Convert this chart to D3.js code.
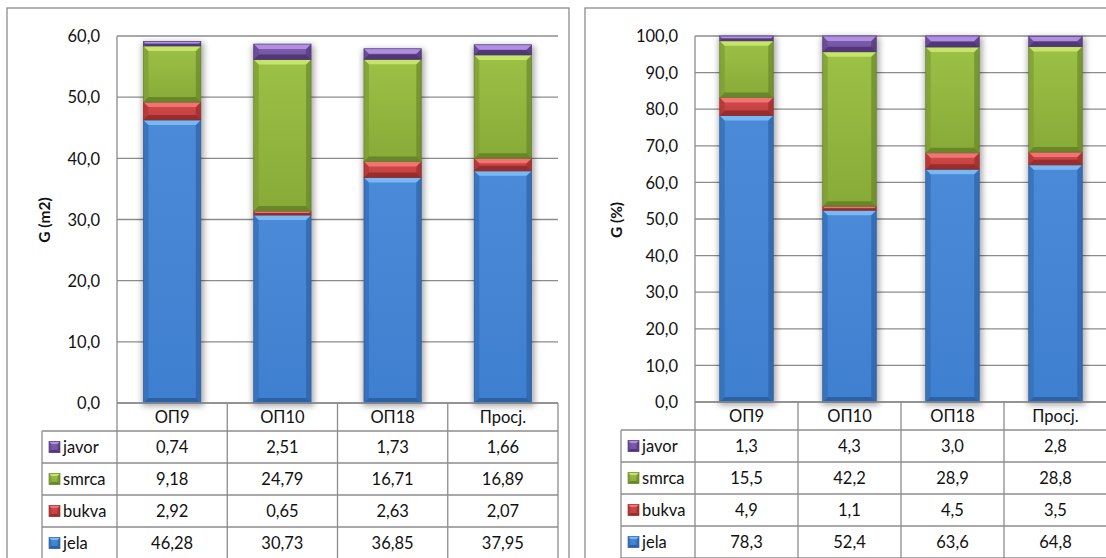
<!DOCTYPE html>
<html>
<head>
<meta charset="utf-8">
<script src="https://cdn.jsdelivr.net/npm/d3@7"></script>
<style>
  html, body { margin: 0; padding: 0; background: #fff; }
  svg { display: block; }
  text { font-family: Lato, "Open Sans", "Noto Sans", sans-serif; fill: #111; }
</style>
</head>
<body>
<svg id="chart" width="1106" height="558"></svg>
<script>
// ---- data ----
const categories = ["ОП9", "ОП10", "ОП18", "Просј."];
const seriesNames = ["jela", "bukva", "smrca", "javor"];           // stack order, bottom -> top
const tableOrder = ["javor", "smrca", "bukva", "jela"];            // table row order, top -> bottom

// Panel 1: G (m2)
const m2_jela  = [46.28, 30.73, 36.85, 37.95];
const m2_bukva = [2.92, 0.65, 2.63, 2.07];
const m2_smrca = [9.18, 24.79, 16.71, 16.89];
const m2_javor = [0.74, 2.51, 1.73, 1.66];
const m2_labels = {
  jela:  ["46,28", "30,73", "36,85", "37,95"],
  bukva: ["2,92", "0,65", "2,63", "2,07"],
  smrca: ["9,18", "24,79", "16,71", "16,89"],
  javor: ["0,74", "2,51", "1,73", "1,66"]
};
const m2_ticks = [0, 10, 20, 30, 40, 50, 60];

// Panel 2: G (%)
const pct_jela  = [78.3, 52.4, 63.6, 64.8];
const pct_bukva = [4.9, 1.1, 4.5, 3.5];
const pct_smrca = [15.5, 42.2, 28.9, 28.8];
const pct_javor = [1.3, 4.3, 3.0, 2.8];
const pct_labels = {
  jela:  ["78,3", "52,4", "63,6", "64,8"],
  bukva: ["4,9", "1,1", "4,5", "3,5"],
  smrca: ["15,5", "42,2", "28,9", "28,8"],
  javor: ["1,3", "4,3", "3,0", "2,8"]
};
const pct_ticks = [0, 10, 20, 30, 40, 50, 60, 70, 80, 90, 100];

const seriesColors = {
  jela:  { face: "#3f7fcf", top: "#4a8ad8", light: "#7ab8f2", dark: "#2a5c9e", side: "#3670b8" },
  bukva: { face: "#c43f3f", top: "#d24a4a", light: "#f27373", dark: "#8e2a2a", side: "#b23838" },
  smrca: { face: "#88aa38", top: "#9cc146", light: "#c6e46a", dark: "#637f28", side: "#7f9f34" },
  javor: { face: "#7152a0", top: "#7f5fb0", light: "#b08ee0", dark: "#4b3370", side: "#684a94" }
};

const FS = 16.5;
const fmt = v => v.toFixed(1).replace(".", ",");
const svg = d3.select("#chart");
const GRID = "#8c8c8c";

const defs = svg.append("defs");
const f = defs.append("filter").attr("id", "shadow").attr("x", "-30%").attr("y", "-10%").attr("width", "160%").attr("height", "120%");
f.append("feGaussianBlur").attr("stdDeviation", 3);
Object.entries(seriesColors).forEach(([k, c]) => {
  const lg = defs.append("linearGradient").attr("id", "grad-" + k).attr("x1", 0).attr("y1", 0).attr("x2", 0).attr("y2", 1);
  lg.append("stop").attr("offset", "0%").attr("stop-color", c.top);
  lg.append("stop").attr("offset", "100%").attr("stop-color", c.face);
});

function bevelBar(g, x, y, w, h, key, b0) {
  const c = seriesColors[key];
  const b = Math.min(b0, h / 2, w / 2);
  g.append("rect").attr("x", x).attr("y", y).attr("width", w).attr("height", h).attr("fill", `url(#grad-${key})`);
  g.append("polygon").attr("points", [[x, y], [x + b, y + b], [x + b, y + h - b], [x, y + h]].join(" ")).attr("fill", c.side).attr("opacity", 0.8);
  g.append("polygon").attr("points", [[x + w, y], [x + w - b, y + b], [x + w - b, y + h - b], [x + w, y + h]].join(" ")).attr("fill", c.dark).attr("opacity", 0.6);
  g.append("polygon").attr("points", [[x, y], [x + w, y], [x + w - b, y + b], [x + b, y + b]].join(" ")).attr("fill", c.light);
  g.append("polygon").attr("points", [[x, y + h], [x + w, y + h], [x + w - b, y + h - b], [x + b, y + h - b]].join(" ")).attr("fill", c.dark).attr("opacity", 0.85);
  g.append("rect").attr("x", x).attr("y", y).attr("width", w).attr("height", h)
    .attr("fill", "none").attr("stroke", c.dark).attr("stroke-width", 0.8).attr("opacity", 0.8);
}

function drawPanel(cfg) {
  const g = svg.append("g");
  // outer frame
  g.append("rect").attr("x", cfg.frameLeft).attr("y", 8).attr("width", cfg.frameRight - cfg.frameLeft).attr("height", 600)
    .attr("fill", "none").attr("stroke", GRID).attr("stroke-width", 1.3);

  const x = d3.scaleBand().domain(categories).range([cfg.plotLeft, cfg.plotRight]).paddingInner(0).paddingOuter(0);
  const y = d3.scaleLinear().domain([0, cfg.max]).range([cfg.zeroY, cfg.topY]);

  // gridlines
  g.append("g").selectAll("line").data(cfg.ticks).join("line")
    .attr("x1", cfg.plotLeft).attr("x2", cfg.plotRight)
    .attr("y1", d => y(d)).attr("y2", d => y(d))
    .attr("stroke", GRID).attr("stroke-width", 1.3);
  g.append("line").attr("x1", cfg.plotLeft).attr("x2", cfg.plotLeft).attr("y1", y(cfg.max)).attr("y2", cfg.zeroY)
    .attr("stroke", GRID).attr("stroke-width", 1.3);

  // y tick labels
  const yAxis = d3.axisLeft(y).tickValues(cfg.ticks).tickFormat(fmt).tickSize(0).tickPadding(0);
  const ag = g.append("g").attr("transform", `translate(${cfg.labelRight},0)`).call(yAxis);
  ag.select(".domain").remove();
  ag.selectAll("text").attr("font-size", FS).attr("font-family", "Lato, 'Open Sans', sans-serif").attr("fill", "#111").attr("dy", "0.35em");

  // y title
  g.append("text").attr("transform", `translate(${cfg.titleX},${cfg.titleY}) rotate(-90)`)
    .attr("text-anchor", "middle").attr("dy", "0.35em").attr("font-size", 15.5).attr("font-weight", "bold").text(cfg.title);

  // bars
  const stack = d3.stack().keys(seriesNames)(categories.map((c, i) => {
    const o = { cat: c };
    seriesNames.forEach(s => o[s] = cfg.data[s][i]);
    return o;
  }));
  const bw = x.bandwidth() * 0.52;
  // shadow
  const totals = categories.map((c, i) => d3.sum(seriesNames, s => cfg.data[s][i]));
  g.append("g").selectAll("rect").data(categories).join("rect")
    .attr("x", c => x(c) + (x.bandwidth() - bw) / 2 - 1)
    .attr("y", (c, i) => y(totals[i]) + 1)
    .attr("width", bw + 4).attr("height", (c, i) => cfg.zeroY - y(totals[i]) + 2)
    .attr("fill", "#000").attr("opacity", 0.35).attr("filter", "url(#shadow)");
  stack.forEach(layer => {
    const key = layer.key;
    layer.forEach((d, i) => {
      const bx = x(categories[i]) + (x.bandwidth() - bw) / 2;
      const y0 = y(d[1]), y1 = y(d[0]);
      bevelBar(g, bx, y0, bw, y1 - y0, key, 5);
    });
  });

  // data table
  const tg = g.append("g");
  const rowTops = [cfg.zeroY, cfg.zeroY + 28];
  for (let r = 1; r <= 4; r++) rowTops.push(rowTops[rowTops.length - 1] + 32);
  // header row
  tg.selectAll("text.hdr").data(categories).join("text")
    .attr("x", c => x(c) + x.bandwidth() / 2).attr("y", (rowTops[0] + rowTops[1]) / 2)
    .attr("text-anchor", "middle").attr("dy", "0.35em").attr("font-size", FS).text(c => c);
  // horizontal lines
  const hl = [];
  rowTops.forEach((t, i) => {
    if (i === 0) return;
    hl.push({ y: t, x1: cfg.tableLeft, x2: cfg.plotRight });
  });
  hl.push({ y: cfg.zeroY, x1: cfg.plotLeft, x2: cfg.plotRight });
  tg.selectAll("line.h").data(hl).join("line")
    .attr("x1", d => d.x1).attr("x2", d => d.x2).attr("y1", d => d.y).attr("y2", d => d.y)
    .attr("stroke", GRID).attr("stroke-width", 1.3);
  // vertical lines
  const vx = [cfg.plotLeft].concat(categories.map(c => x(c) + x.bandwidth()));
  tg.selectAll("line.v").data(vx).join("line")
    .attr("x1", d => d).attr("x2", d => d).attr("y1", cfg.zeroY).attr("y2", 600)
    .attr("stroke", GRID).attr("stroke-width", 1.3);
  tg.append("line").attr("x1", cfg.tableLeft).attr("x2", cfg.tableLeft).attr("y1", rowTops[1]).attr("y2", 600)
    .attr("stroke", GRID).attr("stroke-width", 1.3);

  tableOrder.forEach((s, r) => {
    const cy = (rowTops[r + 1] + rowTops[r + 2]) / 2;
    const mg = tg.append("g");
    bevelBar(mg, cfg.tableLeft + 7, cy - 5.5, 11, 11, s, 2.5);
    tg.append("text").attr("x", cfg.tableLeft + 21).attr("y", cy).attr("dy", "0.35em").attr("font-size", FS).text(s);
    categories.forEach((c, i) => {
      tg.append("text").attr("x", x(c) + x.bandwidth() / 2).attr("y", cy).attr("dy", "0.35em")
        .attr("text-anchor", "middle").attr("font-size", FS).text(cfg.labels[s][i]);
    });
  });
}

drawPanel({
  frameLeft: 7, frameRight: 569,
  plotLeft: 117, plotRight: 558, zeroY: 403, topY: 36, max: 60,
  ticks: m2_ticks, labelRight: 100, titleX: 45, titleY: 220, title: "G (m2)",
  tableLeft: 42,
  data: { jela: m2_jela, bukva: m2_bukva, smrca: m2_smrca, javor: m2_javor },
  labels: m2_labels
});
drawPanel({
  frameLeft: 585, frameRight: 1140,
  plotLeft: 695, plotRight: 1107, zeroY: 402, topY: 36, max: 100,
  ticks: pct_ticks, labelRight: 678, titleX: 617, titleY: 220, title: "G (%)",
  tableLeft: 621,
  data: { jela: pct_jela, bukva: pct_bukva, smrca: pct_smrca, javor: pct_javor },
  labels: pct_labels
});
</script>
</body>
</html>
